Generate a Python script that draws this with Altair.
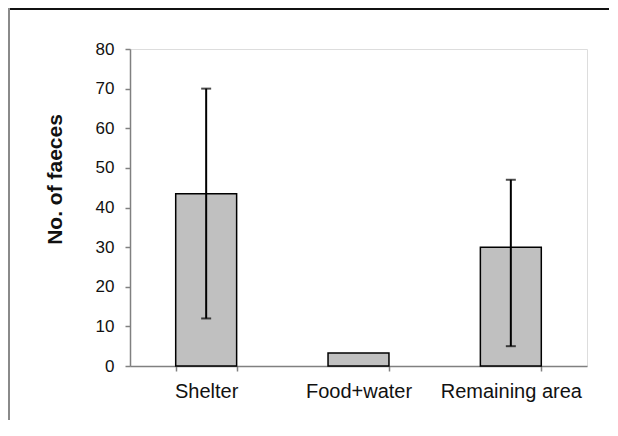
import altair as alt
import pandas as pd

categories = ["Shelter", "Food+water", "Remaining area"]
means = [43.5, 3.3, 30.0]
err_low = [12.0, None, 5.0]
err_high = [70.0, None, 47.0]
y_ticks = [0, 10, 20, 30, 40, 50, 60, 70, 80]

df = pd.DataFrame({"cat": categories, "mean": means, "lo": err_low, "hi": err_high})
err_df = df.dropna()

W, H = 457, 317

xaxis = alt.Axis(title=None, labelAngle=0, tickBand="extent",
                 labelFontSize=20, labelColor="#111", labelPadding=10,
                 labelFont="Liberation Sans",
                 domainColor="#808080", tickColor="#808080",
                 tickSize=5, domainWidth=1.5, tickWidth=1.5)
xscale = alt.Scale(paddingInner=0.6, paddingOuter=0.3)

yaxis = alt.Axis(values=y_ticks, labelOverlap=False, grid=False,
                 title="No. of faeces",
                 titleFontSize=21, titleFont="Liberation Sans",
                 titleFontWeight="bold", titleColor="#111",
                 titleAngle=-90, titleX=-75, titleY=130,
                 titleBaseline="middle", titleAlign="center",
                 labelFontSize=17, labelFont="Liberation Sans",
                 labelColor="#111", labelPadding=11,
                 domainColor="#808080", tickColor="#808080",
                 tickSize=5, domainWidth=1.5, tickWidth=1.5)
yscale = alt.Scale(domain=[0, 80], nice=False)


def xe():
    return alt.X("cat:N", sort=categories, scale=xscale, axis=xaxis)


def ye(field):
    return alt.Y(field, type="quantitative", scale=yscale, axis=yaxis,
                 title="No. of faeces")


bars = alt.Chart(df).mark_bar(fill="#c0c0c0", stroke="#000", strokeWidth=1.5).encode(
    x=xe(), y=ye("mean"))

rules = alt.Chart(err_df).mark_rule(color="#000", strokeWidth=2).encode(
    x=xe(), y=ye("lo"), y2="hi:Q")

caps_hi = alt.Chart(err_df).mark_tick(color="#000", thickness=2, size=10).encode(
    x=xe(), y=ye("hi"))
caps_lo = alt.Chart(err_df).mark_tick(color="#000", thickness=2, size=10).encode(
    x=xe(), y=ye("lo"))

frame = pd.DataFrame({"k": [0]})
top_border = alt.Chart(frame).mark_rule(color="#111", strokeWidth=2, strokeCap="butt").encode(
    x=alt.value(-122), x2=alt.value(479), y=alt.value(-40), y2=alt.value(-40))
left_border = alt.Chart(frame).mark_rule(color="#8a8a8a", strokeWidth=2, strokeCap="butt").encode(
    x=alt.value(-121), x2=alt.value(-121), y=alt.value(-41), y2=alt.value(380))

chart = alt.layer(bars, rules, caps_hi, caps_lo, top_border, left_border).properties(
    width=W, height=H,
    autosize=alt.AutoSizeParams(type="none"),
    padding={"left": 122, "top": 41, "right": 23, "bottom": 54},
).configure_view(stroke=None).configure(background="white")

chart.save("out.html", embed_options={"renderer": "svg", "actions": False})
